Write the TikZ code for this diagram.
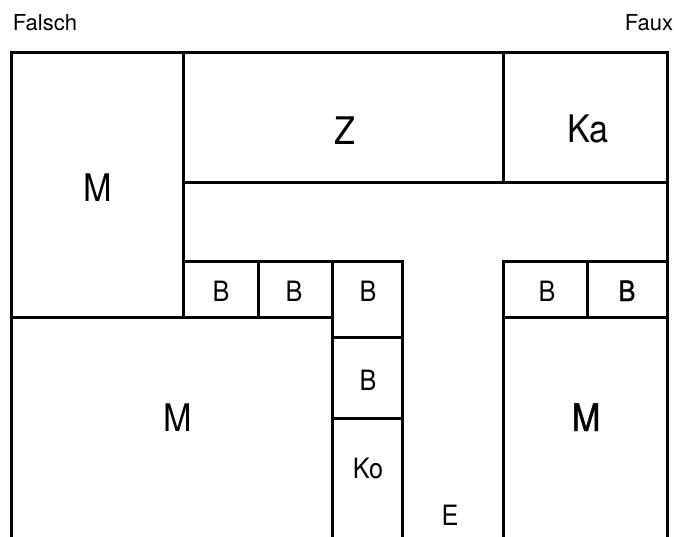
\documentclass[tikz,border=0pt]{standalone}
\usepackage{fontspec}
\setmainfont{TeX Gyre Heros}
\newfontfamily\narrowfont[FakeStretch=0.9]{TeX Gyre Heros}
\newfontfamily\narrowbold[FakeStretch=0.9,FakeBold=1.2]{TeX Gyre Heros}
\begin{document}
\begin{tikzpicture}[x=1pt,y=-1pt,
  wall/.style={line width=3pt,line cap=rect,line join=miter},
  lbl/.style={anchor=base,inner sep=0pt},
  big/.style={lbl,font=\narrowfont\fontsize{38}{39}\selectfont},
  bigb/.style={lbl,font=\narrowbold\fontsize{38}{39}\selectfont},
  mid/.style={lbl,font=\narrowfont\fontsize{28}{29}\selectfont},
  midb/.style={lbl,font=\narrowbold\fontsize{28}{29}\selectfont},
  hdr/.style={lbl,font=\fontsize{22}{23}\selectfont}]
\useasboundingbox (0,0) rectangle (674,536);
% walls
\draw[wall] (11,540) -- (11,52) -- (667,52) -- (667,540);
\draw[wall] (183,52) -- (183,317);
\draw[wall] (503,52) -- (503,182);
\draw[wall] (183,182) -- (667,182);
\draw[wall] (183,261) -- (402,261) -- (402,540);
\draw[wall] (11,317) -- (332,317);
\draw[wall] (332,261) -- (332,540);
\draw[wall] (258,261) -- (258,317);
\draw[wall] (332,337) -- (402,337);
\draw[wall] (332,418) -- (402,418);
\draw[wall] (503,540) -- (503,261) -- (667,261);
\draw[wall] (503,317) -- (667,317);
\draw[wall] (587,261) -- (587,317);
% labels
\node[hdr] (falsch) at (45,30) {Falsch};
\node[hdr] (faux) at (649,30) {Faux};
\node[big] (m1) at (98,201) {M};
\node[big] (z) at (345,144) {Z};
\node[big] (ka) at (588,142) {Ka};
\node[mid] (b1) at (221,301) {B};
\node[mid] (b2) at (294,301) {B};
\node[mid] (b3) at (368,301) {B};
\node[mid] (b4) at (368,390) {B};
\node[mid] (b5) at (547,301) {B};
\node[midb] (b6) at (627,301) {B};
\node[big] (m2) at (178,431) {M};
\node[bigb] (m3) at (586,431) {M};
\node[mid] (ko) at (368,478) {Ko};
\node[mid] (e) at (450,525) {E};
\end{tikzpicture}
\end{document}
